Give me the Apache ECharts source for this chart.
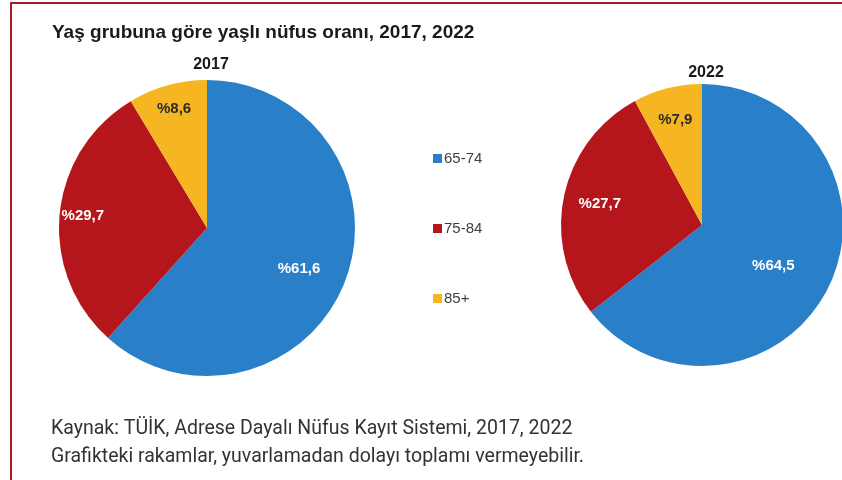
<!DOCTYPE html>
<html>
<head>
<meta charset="utf-8">
<script src="https://cdn.jsdelivr.net/npm/echarts@6/dist/echarts.min.js"></script>
<style>
  html, body { margin: 0; padding: 0; background: #fff; }
  #chart { width: 842px; height: 480px; }
</style>
</head>
<body>
<div id="chart"></div>
<script>
// yaş grupları
const groups = ['65-74', '75-84', '85+']
const colors = ['#2a7fc9', '#b5161b', '#f6b622']
const values2017 = [61.6, 29.7, 8.6]
const values2022 = [64.5, 27.7, 7.9]
// etiketin yarıçap oranı (merkezden uzaklık / yarıçap)
const labelRatio2017 = [0.64, 0.81, 0.8]
const labelRatio2022 = [0.54, 0.71, 0.74]

const FONT = 'Arial, "Liberation Sans", sans-serif'
const chart = echarts.init(document.getElementById('chart'))

function fmt(v) {
  return '%' + v.toFixed(1).replace('.', ',')
}

function makePie(name, values, center, radius, ratios) {
  return {
    name: name,
    type: 'pie',
    center: center,
    radius: radius,
    startAngle: 90,
    clockwise: true,
    silent: true,
    animation: false,
    data: values.map((v, i) => ({
      name: groups[i],
      value: v,
      itemStyle: { color: colors[i] },
      label: { color: i === 2 ? '#2b2b2b' : '#ffffff' }
    })),
    label: {
      show: true,
      position: 'inside',
      formatter: p => fmt(p.value),
      fontFamily: FONT,
      fontWeight: 'bold',
      fontSize: 15
    },
    labelLine: { show: false },
    // Excel'deki gibi etiketleri dışa doğru it
    labelLayout: function (params) {
      const r = params.labelRect
      const lx = r.x + r.width / 2
      const ly = r.y + r.height / 2
      const k = ratios[params.dataIndex] * 2 - 1
      return { dx: (lx - center[0]) * k, dy: (ly - center[1]) * k + (params.dataIndex === 0 ? 6 : 0) }
    }
  }
}

chart.setOption({
  backgroundColor: '#ffffff',
  title: [
    {
      text: 'Yaş grubuna göre yaşlı nüfus oranı, 2017, 2022',
      left: 47,
      top: 18,
      textStyle: {
        fontFamily: FONT,
        fontSize: 19,
        fontWeight: 'bold',
        color: '#1a1a1a'
      }
    },
    {
      text: '2017',
      left: 206,
      top: 52,
      textAlign: 'center',
      textStyle: { fontFamily: FONT, fontSize: 16, fontWeight: 'bold', color: '#1a1a1a' }
    },
    {
      text: '2022',
      left: 701,
      top: 60,
      textAlign: 'center',
      textStyle: { fontFamily: FONT, fontSize: 16, fontWeight: 'bold', color: '#1a1a1a' }
    },
    {
      text: 'Kaynak: TÜİK, Adrese Dayalı Nüfus Kayıt Sistemi, 2017, 2022\nGrafikteki rakamlar, yuvarlamadan dolayı toplamı vermeyebilir.',
      left: 46,
      top: 410,
      textStyle: {
        fontFamily: 'Roboto, sans-serif',
        fontSize: 19.5,
        fontWeight: 'normal',
        color: '#333333',
        lineHeight: 28
      }
    }
  ],
  legend: {
    orient: 'vertical',
    left: 428,
    top: 146,
    itemWidth: 9,
    itemHeight: 9,
    itemGap: 55,
    icon: 'rect',
    selectedMode: false,
    data: groups,
    textStyle: { fontFamily: FONT, fontSize: 15, color: '#404040', padding: [0, 0, 0, -3] }
  },
  graphic: [
    {
      type: 'rect',
      silent: true,
      shape: { x: 11, y: 3, width: 900, height: 600 },
      style: { fill: 'none', stroke: '#a51d24', lineWidth: 2 }
    }
  ],
  series: [
    makePie('2017', values2017, [207, 228], 148, labelRatio2017),
    makePie('2022', values2022, [702, 225], 141, labelRatio2022)
  ]
})
</script>
</body>
</html>
